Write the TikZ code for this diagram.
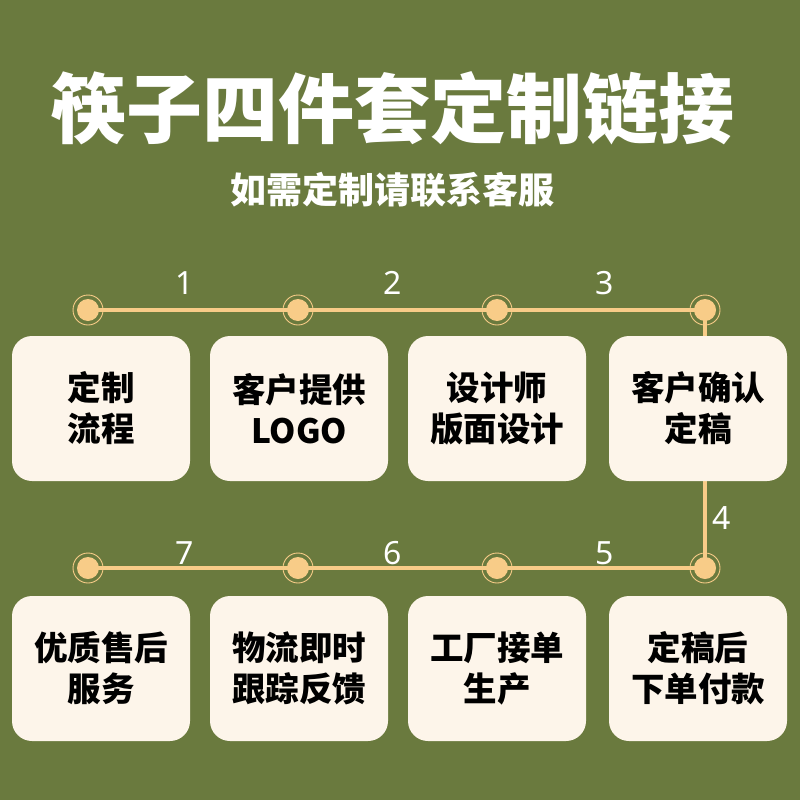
\documentclass[tikz,border=0pt]{standalone}
\usepackage{fontspec}
\setmainfont{Noto Sans CJK SC}
\newfontfamily\numfont{Noto Sans}
\usetikzlibrary{backgrounds}
\definecolor{bgc}{HTML}{6A7A3E}
\definecolor{linec}{HTML}{F8CC88}
\definecolor{boxc}{HTML}{FDF5EA}
\tikzset{
  dotnode/.style={circle,minimum size=30pt,inner sep=0pt,draw=linec,line width=0.9pt,
    path picture={\fill[linec] (path picture bounding box.center) circle (11pt);}},
  stepbox/.style={rectangle,rounded corners=20pt,fill=boxc,minimum width=178pt,minimum height=145pt,
    align=center,font=\bfseries\fontsize{33.5}{41}\selectfont,text=black,inner sep=0pt},
  numlabel/.style={text=white,font=\numfont\fontsize{32}{32}\selectfont,inner sep=0pt},
  conn/.style={draw=linec,line width=4pt}
}
\begin{document}
\begin{tikzpicture}[x=1pt,y=-1pt]
\useasboundingbox (0,0) rectangle (800,800);
% title
\node[text=white,font=\bfseries\fontsize{76}{76}\selectfont,inner sep=0pt] (title) at (392,108) {筷子四件套定制链接};
\node[text=white,font=\bfseries\fontsize{36}{36}\selectfont,inner sep=0pt] (sub) at (392,190) {如需定制请联系客服};
% dots
\node[dotnode] (d1) at (88,310) {};
\node[dotnode] (d2) at (298,310) {};
\node[dotnode] (d3) at (497,310) {};
\node[dotnode] (d4) at (705,310) {};
\node[dotnode] (d5) at (705,568) {};
\node[dotnode] (d6) at (497,568) {};
\node[dotnode] (d7) at (298,568) {};
\node[dotnode] (d8) at (88,568) {};
% numbers
\node[numlabel] (n1) at (185,283) {1};
\node[numlabel] (n2) at (393,283) {2};
\node[numlabel] (n3) at (605,283) {3};
\node[numlabel] (n4) at (722,518) {4};
\node[numlabel] (n5) at (605,553) {5};
\node[numlabel] (n6) at (393,553) {6};
\node[numlabel] (n7) at (185,553) {7};
% boxes
\node[stepbox] (b1) at (101,408.5) {定制\\流程};
\node[stepbox] (b2) at (299,408.5) {客户提供\\LOGO};
\node[stepbox] (b3) at (497,408.5) {设计师\\版面设计};
\node[stepbox] (b4) at (698,408.5) {客户确认\\定稿};
\node[stepbox] (b5) at (101,668.5) {优质售后\\服务};
\node[stepbox] (b6) at (299,668.5) {物流即时\\跟踪反馈};
\node[stepbox] (b7) at (497,668.5) {工厂接单\\生产};
\node[stepbox] (b8) at (698,668.5) {定稿后\\下单付款};
\begin{scope}[on background layer]
\fill[bgc] (0,0) rectangle (800,800);
\draw[conn] (d1.center) -- (d2.center) -- (d3.center) -- (d4.center) -- (d5.center) -- (d6.center) -- (d7.center) -- (d8.center);
\end{scope}
\end{tikzpicture}
\end{document}
